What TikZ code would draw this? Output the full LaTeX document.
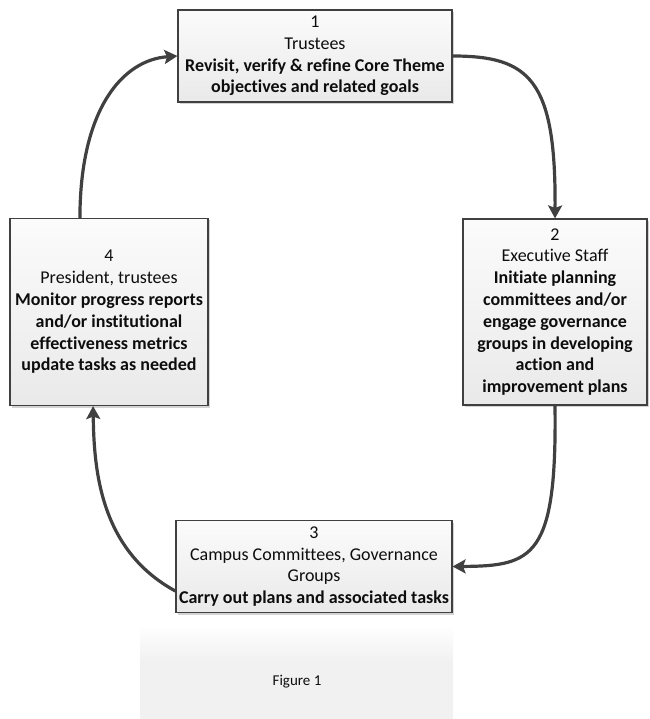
\documentclass[tikz,border=0pt]{standalone}
\usepackage{fontspec}
\setmainfont{Carlito}[Ligatures=NoCommon]
\usetikzlibrary{arrows.meta,shadows,calc}
\definecolor{linegray}{HTML}{404040}
\definecolor{txt}{HTML}{0D0D0D}
\tikzset{
  box/.style={draw=linegray, line width=1.1pt, top color=gray!3, bottom color=gray!17,
    drop shadow={shadow xshift=2pt, shadow yshift=-2pt, opacity=0.35},
    align=center, inner sep=0pt, text=txt,
    font=\fontsize{18}{21.8}\selectfont},
  conn/.style={draw=linegray, line width=3.2pt,
    -{Stealth[length=13pt,width=14pt,inset=2.5pt]}},
}
\begin{document}
\begin{tikzpicture}[x=1pt,y=-1pt]
\useasboundingbox (0,0) rectangle (649,719);
% caption panel
\fill[gray!11] (140,660) rectangle (453,719);
\shade[top color=white, bottom color=gray!11] (140,625) rectangle (453,660.5);
\node[text=txt, font=\fontsize{15}{18}\selectfont] (cap) at (297,682) {Figure 1};
% boxes
\node[box, minimum width=274pt, minimum height=92pt] (b1) at (315,56)
  {1\\Trustees\\\textbf{Revisit, verify \& refine Core Theme}\\\textbf{objectives and related goals}};
\node[box, minimum width=184pt, minimum height=186pt] (b2) at (555,312)
  {2\\Executive Staff\\\textbf{Initiate planning}\\\textbf{committees and/or}\\\textbf{engage governance}\\\textbf{groups in developing}\\\textbf{action and}\\\textbf{improvement plans}};
\node[box, minimum width=276pt, minimum height=92pt] (b3) at (314,566.5)
  {3\\Campus Committees, Governance\\Groups\\\textbf{Carry out plans and associated tasks}};
\node[box, minimum width=198pt, minimum height=187pt] (b4) at (109,312)
  {4\\President, trustees\\\textbf{Monitor progress reports}\\\textbf{and/or institutional}\\\textbf{effectiveness metrics}\\\textbf{update tasks as needed}};
% connector end points
\coordinate (s1) at ($(b4.north west)!0.354!(b4.north east)$);
\coordinate (s4) at ($(b3.south west)+(0,-22)$);
\coordinate (e4) at ($(b4.south west)!0.42!(b4.south east)$);
% connectors
\draw[conn] (s1) .. controls (80,110) and (122,60) .. (b1.west);
\draw[conn] (b1.east) .. controls (530,56) and (556,80) .. (b2.north);
\draw[conn] (b2.south) .. controls (557,558) and (533,566) .. (b3.east);
\draw[conn] (s4) .. controls (100,550) and (94,470) .. (e4);
\end{tikzpicture}
\end{document}
